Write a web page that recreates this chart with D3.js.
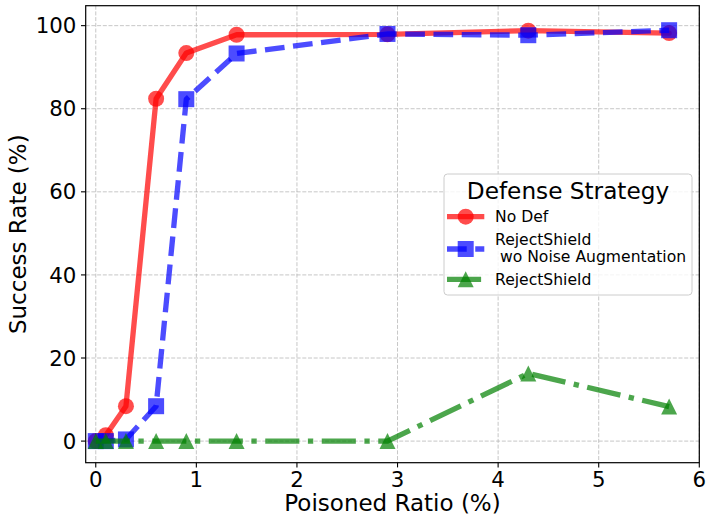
<!DOCTYPE html>
<html>
<head>
<meta charset="utf-8">
<script src="https://cdn.jsdelivr.net/npm/d3@7"></script>
<style>
  html, body { margin: 0; padding: 0; background: #fff; }
  svg { display: block; font-family: "DejaVu Sans", sans-serif; }
</style>
</head>
<body>
<svg id="chart" width="707" height="516"></svg>
<script>
// ---- data ----
const ratios = [0, 0.1, 0.3, 0.6, 0.9, 1.4, 2.9, 4.3, 5.7];
const noDef = [0, 1.4, 8.4, 82.4, 93.4, 97.8, 97.9, 98.8, 98.2];
const rejectNoNoise = [0, 0, 0.4, 8.4, 82.3, 93.3, 98.0, 97.7, 98.9];
const rejectShield = [0, 0, 0, 0, 0, 0, 0, 16.3, 8.3];
const xTicks = [0, 1, 2, 3, 4, 5, 6];
const yTicks = [0, 20, 40, 60, 80, 100];
const seriesNames = ["No Def", "RejectShield\n wo Noise Augmentation", "RejectShield"];
const legendTitle = "Defense Strategy";
const xLabel = "Poisoned Ratio (%)";
const yLabel = "Success Rate (%)";

// ---- layout ----
const svg = d3.select("#chart");
const L = 85.7, R = 699.3, T = 5.7, B = 462.7;
const x = d3.scaleLinear().domain([-0.1, 6]).range([L, R]);
const y = d3.scaleLinear().domain([-5.2, 104.8]).range([B, T]);

const lw = 5.33;
const series = [
  { name: seriesNames[0], values: noDef, color: "#ff0000", dash: null, marker: "circle" },
  { name: seriesNames[1], values: rejectNoNoise, color: "#0000ff", dash: [3.7 * lw, 1.6 * lw], marker: "square" },
  { name: seriesNames[2], values: rejectShield, color: "#008000", dash: [6.4 * lw, 1.6 * lw, 1 * lw, 1.6 * lw], marker: "triangle" }
];

// grid
const grid = svg.append("g");
grid.selectAll("line.gx").data(xTicks).join("line")
  .attr("x1", d => x(d)).attr("x2", d => x(d)).attr("y1", T).attr("y2", B);
grid.selectAll("line.gy").data(yTicks).join("line")
  .attr("x1", L).attr("x2", R).attr("y1", d => y(d)).attr("y2", d => y(d));
grid.selectAll("line")
  .attr("stroke", "#b0b0b0").attr("stroke-width", 1.0)
  .attr("stroke-dasharray", "4,1.7").attr("opacity", 0.7);

// clip
svg.append("clipPath").attr("id", "clip").append("rect")
  .attr("x", L).attr("y", T).attr("width", R - L).attr("height", B - T);

function drawMarker(g, type, cx, cy, color) {
  const s = 16;
  if (type === "circle") {
    g.append("circle").attr("cx", cx).attr("cy", cy).attr("r", s / 2)
      .attr("fill", color).attr("opacity", 0.7);
  } else if (type === "square") {
    g.append("rect").attr("x", cx - s / 2).attr("y", cy - s / 2)
      .attr("width", s).attr("height", s).attr("fill", color).attr("opacity", 0.7);
  } else {
    const h = s / 2;
    g.append("path")
      .attr("d", `M${cx},${cy - h}L${cx - h},${cy + h}L${cx + h},${cy + h}Z`)
      .attr("fill", color).attr("opacity", 0.7);
  }
}

const plot = svg.append("g").attr("clip-path", "url(#clip)");
const line = d3.line().x(d => x(d[0])).y(d => y(d[1]));
series.forEach(s => {
  const pts = ratios.map((r, i) => [r, s.values[i]]);
  plot.append("path").datum(pts)
    .attr("d", line)
    .attr("fill", "none")
    .attr("stroke", s.color)
    .attr("stroke-width", lw)
    .attr("stroke-linejoin", "round")
    .attr("stroke-linecap", s.dash ? "butt" : "round")
    .attr("stroke-dasharray", s.dash ? s.dash.join(",") : null)
    .attr("opacity", 0.7);
  const mg = plot.append("g");
  pts.forEach(p => drawMarker(mg, s.marker, x(p[0]), y(p[1]), s.color));
});

// spines
svg.append("rect").attr("x", L).attr("y", T).attr("width", R - L).attr("height", B - T)
  .attr("fill", "none").attr("stroke", "#000").attr("stroke-width", 1.2);

// ticks
const tickFont = 21.3;
const xt = svg.append("g");
xTicks.forEach(t => {
  xt.append("line").attr("x1", x(t)).attr("x2", x(t)).attr("y1", B).attr("y2", B + 4.7)
    .attr("stroke", "#000").attr("stroke-width", 1.1);
  xt.append("text").attr("x", x(t)).attr("y", 486.7).attr("text-anchor", "middle")
    .attr("font-size", tickFont).attr("fill", "#000").text(d3.format("d")(t));
});
const yt = svg.append("g");
yTicks.forEach(t => {
  yt.append("line").attr("x1", L - 4.7).attr("x2", L).attr("y1", y(t)).attr("y2", y(t))
    .attr("stroke", "#000").attr("stroke-width", 1.1);
  yt.append("text").attr("x", 76.3).attr("y", y(t)).attr("dy", "0.36em").attr("text-anchor", "end")
    .attr("font-size", tickFont).attr("fill", "#000").text(d3.format("d")(t));
});

// axis labels
svg.append("text").attr("x", (L + R) / 2).attr("y", 510.5).attr("text-anchor", "middle")
  .attr("font-size", 23).attr("fill", "#000").text(xLabel);
svg.append("text").attr("transform", `translate(26,${(T + B) / 2}) rotate(-90)`)
  .attr("text-anchor", "middle").attr("font-size", 23).attr("fill", "#000").text(yLabel);

// legend
const lg = svg.append("g");
lg.append("rect").attr("x", 444).attr("y", 174).attr("width", 248).attr("height", 121)
  .attr("rx", 3.5).attr("fill", "#fff").attr("fill-opacity", 0.8)
  .attr("stroke", "#cccccc").attr("stroke-width", 1);
lg.append("text").attr("x", 568).attr("y", 198.5).attr("text-anchor", "middle")
  .attr("font-size", 23.2).attr("fill", "#000").text(legendTitle);

const handleY = [216.7, 249, 279.3];
const textY = [[222.3], [245, 261.7], [285]];
series.forEach((s, i) => {
  const hy = handleY[i];
  lg.append("line").attr("x1", 447).attr("x2", 484.3).attr("y1", hy).attr("y2", hy)
    .attr("stroke", s.color).attr("stroke-width", lw)
    .attr("stroke-dasharray", s.dash ? s.dash.join(",") : null)
    .attr("opacity", 0.7);
  drawMarker(lg, s.marker, 465.7, hy, s.color);
  const lines = s.name.split("\n");
  lines.forEach((tx, j) => {
    lg.append("text").attr("x", 495).attr("y", textY[i][j])
      .attr("font-size", 15.6).attr("fill", "#000")
      .style("white-space", "pre").text(tx);
  });
});
</script>
</body>
</html>
